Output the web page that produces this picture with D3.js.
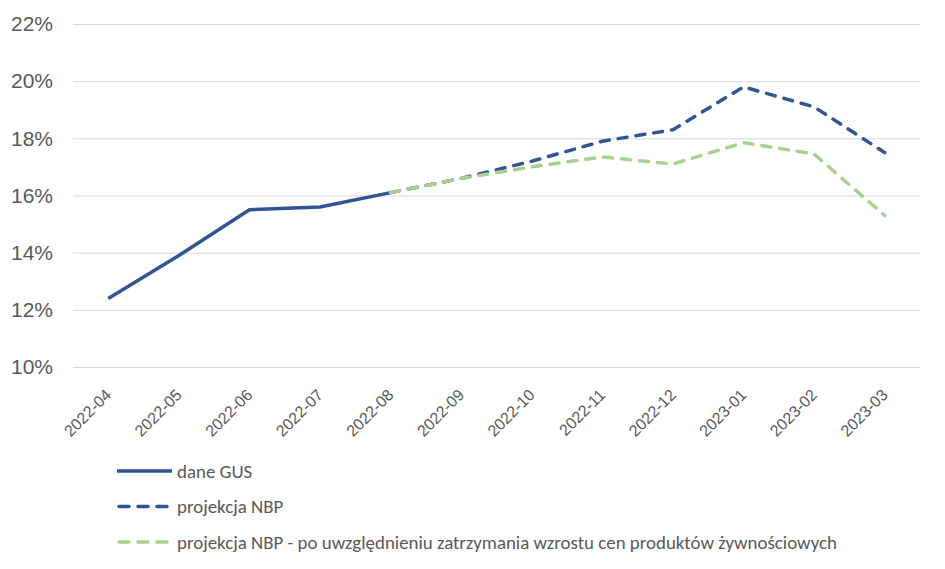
<!DOCTYPE html>
<html>
<head>
<meta charset="utf-8">
<script src="https://cdn.jsdelivr.net/npm/d3@7"></script>
<style>
  html, body { margin: 0; padding: 0; background: #fff; }
  svg { display: block; font-family: Carlito, 'Liberation Sans Narrow', 'Open Sans', sans-serif; }
</style>
</head>
<body>
<div id="chart"></div>
<script>
const months = ['2022-04', '2022-05', '2022-06', '2022-07', '2022-08', '2022-09',
  '2022-10', '2022-11', '2022-12', '2023-01', '2023-02', '2023-03'];

// inflation, % y/y
const gus = [12.4, 13.9, 15.5, 15.6, 16.1, null, null, null, null, null, null, null];
const nbp = [null, null, null, null, 16.1, 16.6, 17.2, 17.9, 18.3, 19.8, 19.1, 17.5];
const nbpFood = [null, null, null, null, 16.1, 16.6, 17.0, 17.35, 17.1, 17.85, 17.45, 15.3];

const yTicks = [10, 12, 14, 16, 18, 20, 22];

const series = [
  { name: 'dane GUS', values: gus, color: '#2f5597', dash: null },
  { name: 'projekcja NBP', values: nbp, color: '#2f5597', dash: '9,9' },
  { name: 'projekcja NBP - po uwzględnieniu zatrzymania wzrostu cen produktów żywnościowych', values: nbpFood, color: '#a9d18e', dash: '9,9' }
];

const width = 945, height = 569;
const marginLeft = 73, marginRight = 25, marginTop = 24, plotBottom = 367;

const x = d3.scaleBand()
  .domain(months)
  .range([marginLeft, width - marginRight]);

const y = d3.scaleLinear()
  .domain([10, 22])
  .range([plotBottom, marginTop]);

const svg = d3.select('#chart').append('svg')
  .attr('width', width)
  .attr('height', height)
  .attr('viewBox', [0, 0, width, height]);

// grid + y labels
svg.append('g')
  .attr('transform', `translate(${marginLeft},0)`)
  .call(d3.axisLeft(y).tickValues(yTicks).tickFormat(d => d + '%').tickSize(0).tickPadding(20))
  .call(g => g.select('.domain').remove())
  .call(g => g.selectAll('.tick line').clone()
    .attr('x2', width - marginLeft - marginRight)
    .attr('stroke', '#d9d9d9')
    .attr('stroke-width', 1))
  .call(g => g.selectAll('.tick text')
    .attr('fill', '#595959')
    .attr('font-size', 21)
    .attr('font-family', null));

// x labels
svg.append('g')
  .attr('transform', `translate(0,${plotBottom})`)
  .call(d3.axisBottom(x).tickSize(0))
  .call(g => g.select('.domain').remove())
  .call(g => g.selectAll('.tick text')
    .attr('fill', '#595959')
    .attr('font-size', 16)
    .attr('font-family', null)
    .attr('text-anchor', 'end')
    .attr('dy', '0.35em')
    .attr('y', 0)
    .attr('transform', 'translate(0,25) rotate(-45)'));

const line = d3.line()
  .defined(d => d[1] != null)
  .x(d => x(d[0]) + x.bandwidth() / 2)
  .y(d => y(d[1]));

// blue first, green projection drawn on top
series.forEach(s => {
  svg.append('path')
    .attr('fill', 'none')
    .attr('stroke', s.color)
    .attr('stroke-width', 3.5)
    .attr('stroke-linejoin', 'round')
    .attr('stroke-linecap', s.dash ? 'round' : 'butt')
    .attr('stroke-dasharray', s.dash)
    .attr('d', line(months.map((m, i) => [m, s.values[i]])));
});

// legend
const legend = svg.append('g')
  .selectAll('g')
  .data(series)
  .join('g')
  .attr('transform', (d, i) => `translate(117,${471 + i * 35.5})`);

legend.append('line')
  .attr('x1', d => d.dash ? 2 : 0)
  .attr('x2', 55)
  .attr('stroke', d => d.color)
  .attr('stroke-width', 3.5)
  .attr('stroke-linecap', d => d.dash ? 'round' : 'butt')
  .attr('stroke-dasharray', d => d.dash ? '10,9' : null);

legend.append('text')
  .attr('x', 60)
  .attr('dy', '0.35em')
  .attr('fill', '#595959')
  .attr('font-size', 18.9)
  .text(d => d.name);
</script>
</body>
</html>
